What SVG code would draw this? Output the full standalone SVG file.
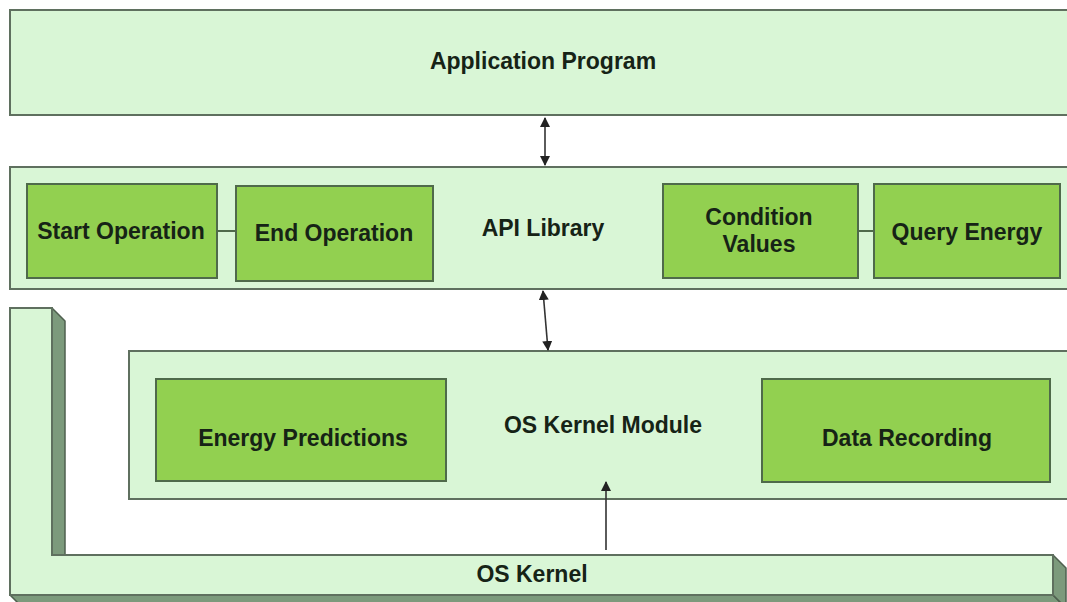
<svg xmlns="http://www.w3.org/2000/svg" width="1067" height="602" viewBox="0 0 1067 602">
  <defs>
    <style>
      .panel { fill: #d9f6d6; stroke: #5f705f; stroke-width: 2; }
      .block { fill: #92d050; stroke: #4f6a4a; stroke-width: 2; }
      .side { fill: #7c9a7c; stroke: #4f604f; stroke-width: 1.5; stroke-linejoin: round; }
      .label { font-family: "Liberation Sans", Arial, sans-serif; font-weight: bold; font-size: 23px; fill: #162316; text-anchor: middle; }
      .link { stroke: #4f6a4a; stroke-width: 2; fill: none; }
      .arrow { stroke: #333; stroke-width: 1.6; fill: none; }
    </style>
    <marker id="head" viewBox="0 0 10 10" refX="9" refY="5" markerWidth="10" markerHeight="10" markerUnits="userSpaceOnUse" orient="auto-start-reverse">
      <path d="M0,0 L10,5 L0,10 Z" fill="#222"/>
    </marker>
  </defs>

  <rect width="1067" height="602" fill="#ffffff"/>

  <!-- OS Kernel: L-shaped slab with extruded faces -->
  <g id="os-kernel">
    <polygon class="side" points="52,308 65,321 65,556 52,556"/>
    <polygon class="side" points="10,595 1053,595 1066,608 23,608"/>
    <polygon class="side" points="1053,555 1066,568 1066,608 1053,595"/>
    <polygon class="panel" points="10,308 52,308 52,555 1053,555 1053,595 10,595"/>
    <text class="label" x="532" y="582">OS Kernel</text>
  </g>

  <!-- Application Program -->
  <g id="application-program">
    <rect class="panel" x="10" y="10" width="1070" height="105"/>
    <text class="label" x="543" y="69">Application Program</text>
  </g>

  <!-- API Library with its operations -->
  <g id="api-library">
    <rect class="panel" x="10" y="167" width="1070" height="122"/>
    <text class="label" x="543" y="236">API Library</text>
  </g>
  <g id="start-operation">
    <rect class="block" x="27" y="184" width="190" height="94"/>
    <text class="label" x="121" y="239">Start Operation</text>
  </g>
  <g id="end-operation">
    <rect class="block" x="236" y="186" width="197" height="95"/>
    <text class="label" x="334" y="241">End Operation</text>
  </g>
  <g id="condition-values">
    <rect class="block" x="663" y="184" width="195" height="94"/>
    <text class="label" x="759" y="225">Condition</text>
    <text class="label" x="759" y="252">Values</text>
  </g>
  <g id="query-energy">
    <rect class="block" x="874" y="184" width="186" height="94"/>
    <text class="label" x="967" y="240">Query Energy</text>
  </g>

  <!-- OS Kernel Module -->
  <g id="os-kernel-module">
    <rect class="panel" x="129" y="351" width="950" height="148"/>
    <text class="label" x="603" y="433">OS Kernel Module</text>
  </g>
  <g id="energy-predictions">
    <rect class="block" x="156" y="379" width="290" height="102"/>
    <text class="label" x="303" y="446">Energy Predictions</text>
  </g>
  <g id="data-recording">
    <rect class="block" x="762" y="379" width="288" height="103"/>
    <text class="label" x="907" y="446">Data Recording</text>
  </g>

  <!-- Connectors -->
  <g id="connectors">
    <line class="link" x1="217" y1="231" x2="236" y2="231"/>
    <line class="link" x1="858" y1="231" x2="874" y2="231"/>
    <line class="arrow" x1="545" y1="118" x2="545" y2="165" marker-start="url(#head)" marker-end="url(#head)"/>
    <line class="arrow" x1="543" y1="291" x2="548" y2="350" marker-start="url(#head)" marker-end="url(#head)"/>
    <line class="arrow" x1="606" y1="550" x2="606" y2="482" marker-end="url(#head)"/>
  </g>
</svg>
